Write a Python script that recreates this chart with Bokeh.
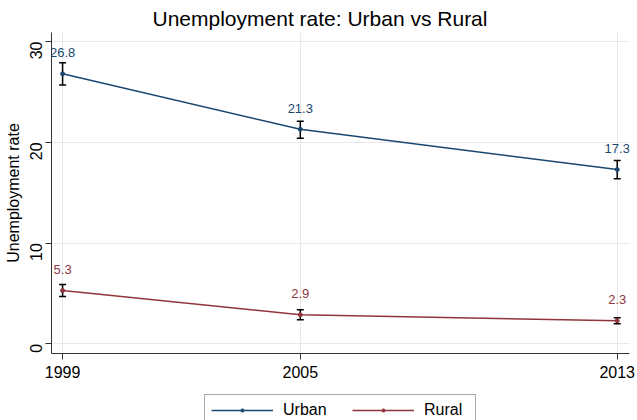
import math
from bokeh.plotting import figure
from bokeh.layouts import column
from bokeh.models import (Range1d, FixedTicker, Whisker, TeeHead, ColumnDataSource,
                          Legend, LegendItem, LabelSet)
from bokeh.core.properties import value
from bokeh.embed import file_html
from bokeh.resources import INLINE

# Survey years and unemployment rates (%)
years = [1999, 2005, 2013]
urban = [26.8, 21.3, 17.3]
rural = [5.3, 2.9, 2.3]

# 95% confidence bounds
urban_lo = [25.7, 20.4, 16.4]
urban_hi = [27.9, 22.1, 18.2]
rural_lo = [4.7, 2.4, 2.0]
rural_hi = [5.9, 3.4, 2.6]

y_ticks = [0, 10, 20, 30]
series_names = ["Urban", "Rural"]

FONT = "Liberation Sans"
NAVY = "#1a476f"
MAROON = "#90353b"

p = figure(width=637, height=392, output_backend="svg", toolbar_location=None,
           x_range=Range1d(1998.72, 2013.31), y_range=Range1d(-0.95, 30.9),
           min_border_left=51, min_border_right=8, min_border_top=32,
           min_border_bottom=39)
p.outline_line_color = None
p.background_fill_color = "white"
p.border_fill_color = "white"

p.title.text = "Unemployment rate: Urban vs Rural"
p.title.text_font = FONT
p.title.text_font_size = "21px"
p.title.text_font_style = "normal"
p.title.text_color = "black"
p.title.align = "left"
p.title.offset = 101
p.title.vertical_align = "middle"
p.title.standoff = 4

# Axes
p.xaxis.ticker = FixedTicker(ticks=years)
p.yaxis.ticker = FixedTicker(ticks=y_ticks)
p.yaxis.axis_label = "Unemployment rate"
for ax in (p.xaxis[0], p.yaxis[0]):
    ax.axis_line_color = "#333333"
    ax.major_tick_line_color = "#333333"
    ax.minor_tick_line_color = None
    ax.major_tick_out = 6
    ax.major_tick_in = 0
    ax.major_label_text_font = FONT
    ax.major_label_text_font_size = "16px"
    ax.major_label_text_color = "black"
    ax.axis_label_text_font = FONT
    ax.axis_label_text_font_size = "16px"
    ax.axis_label_text_font_style = "normal"
    ax.axis_label_text_color = "black"
p.yaxis.major_label_orientation = math.pi / 2
p.yaxis.major_label_standoff = 9
p.yaxis.axis_label_standoff = 0
p.xaxis.major_label_standoff = 6

p.xgrid.grid_line_color = "#e8e8e8"
p.ygrid.grid_line_color = "#e8e8e8"
p.xgrid.ticker = FixedTicker(ticks=years)
p.ygrid.ticker = FixedTicker(ticks=y_ticks)

# Series lines with small markers
p.line(years, urban, line_color=NAVY, line_width=1.5)
p.scatter(years, urban, size=4, fill_color=NAVY, line_color=NAVY)
p.line(years, rural, line_color=MAROON, line_width=1.5)
p.scatter(years, rural, size=4, fill_color=MAROON, line_color=MAROON)

# Confidence interval whiskers
for lo, hi in ((urban_lo, urban_hi), (rural_lo, rural_hi)):
    src = ColumnDataSource(dict(x=years, lo=lo, hi=hi))
    w = Whisker(source=src, base="x", lower="lo", upper="hi",
                line_color="black", line_width=1.5,
                upper_head=TeeHead(size=7, line_color="black", line_width=1.5),
                lower_head=TeeHead(size=7, line_color="black", line_width=1.5))
    p.add_layout(w)

# Value labels above each point
for vals, col in ((urban, NAVY), (rural, MAROON)):
    src = ColumnDataSource(dict(x=years, y=vals, t=[f"{v:.1f}" for v in vals]))
    p.add_layout(LabelSet(x="x", y="y", text="t", source=src,
                          text_align="center", text_baseline="middle", y_offset=21,
                          text_font=value(FONT), text_font_size=value("13px"),
                          text_color=value(col)))

# Legend strip below the chart; its series are drawn outside its visible range
lf = figure(width=637, height=40, output_backend="svg", toolbar_location=None,
            x_range=Range1d(0, 1), y_range=Range1d(0, 1),
            min_border_left=51, min_border_right=8, min_border_top=0,
            min_border_bottom=0)
lf.axis.visible = False
lf.grid.visible = False
lf.outline_line_color = None
lf.border_fill_color = "white"
items = []
for name, vals, col in zip(series_names, (urban, rural), (NAVY, MAROON)):
    r1 = lf.line(years, vals, line_color=col, line_width=1.5)
    r2 = lf.scatter(years, vals, size=4, fill_color=col, line_color=col)
    items.append(LegendItem(label=name, renderers=[r1, r2]))
legend = Legend(items=items, orientation="horizontal", location=(153, 6),
                padding=6, spacing=24, margin=0,
                glyph_width=62, glyph_height=8, label_height=16, label_width=45,
                label_standoff=10,
                label_text_font=FONT, label_text_font_size="16px",
                label_text_color="black",
                border_line_color="#555555", border_line_width=1,
                background_fill_color="white")
lf.add_layout(legend)

open("out.html", "w").write(file_html(column(p, lf, spacing=0), INLINE))
